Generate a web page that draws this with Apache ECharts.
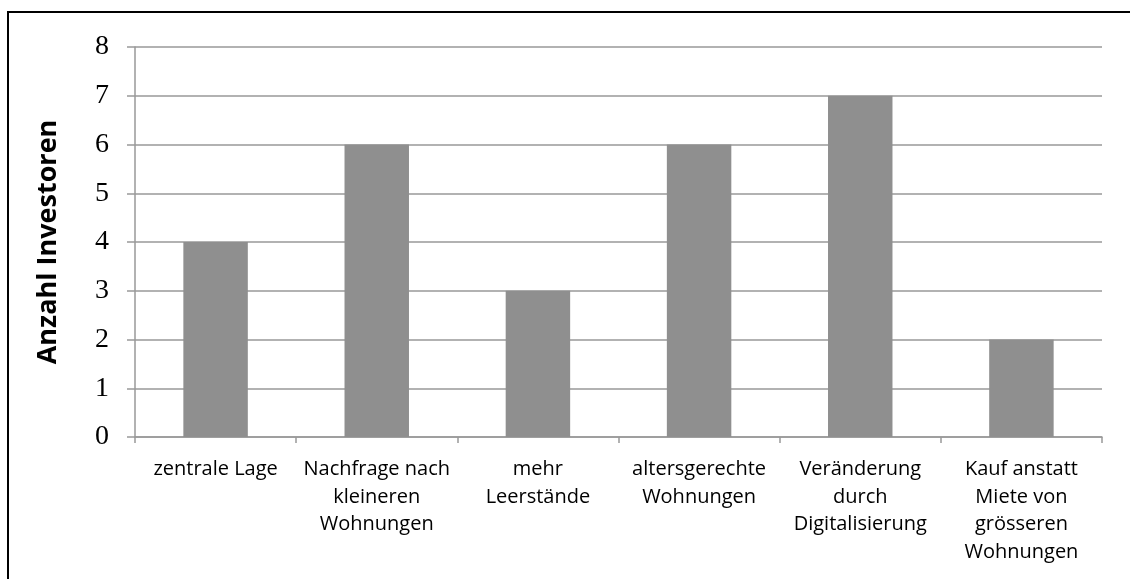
<!DOCTYPE html>
<html><head><meta charset="utf-8">
<script src="https://cdn.jsdelivr.net/npm/echarts@6/dist/echarts.min.js"></script>
<style>html,body{margin:0;padding:0;background:#fff}#c{width:1130px;height:579px}</style>
</head><body><div id="c"></div>
<script>
var categories = ['zentrale Lage', 'Nachfrage nach\nkleineren\nWohnungen', 'mehr\nLeerstände', 'altersgerechte\nWohnungen', 'Veränderung\ndurch\nDigitalisierung', 'Kauf anstatt\nMiete von\ngrösseren\nWohnungen'];
var values = [4, 6, 3, 6, 7, 2];
var yTitle = 'Anzahl Investoren';
var chart = echarts.init(document.getElementById('c'), null, {renderer: 'canvas'});
chart.setOption({
  animation: false,
  backgroundColor: '#fff',
  grid: {left: 135, right: 28, top: 47, bottom: 142, containLabel: false},
  graphic: [{type: 'rect', z: 100, shape: {x: 8, y: 12, width: 1300, height: 800}, style: {fill: 'none', stroke: '#000', lineWidth: 2}}],
  xAxis: {
    type: 'category', data: categories,
    axisLine: {lineStyle: {color: '#999', width: 1.5}},
    axisTick: {show: true, length: 6, lineStyle: {color: '#999', width: 1.5}},
    axisLabel: {interval: 0, color: '#000', fontFamily: 'Open Sans', fontSize: 20, lineHeight: 27.5, margin: 19}
  },
  yAxis: {
    type: 'value', min: 0, max: 8, interval: 1,
    name: yTitle, nameLocation: 'middle', nameGap: 73, nameRotate: 90,
    nameTextStyle: {fontFamily: 'Open Sans', fontWeight: 'bold', fontSize: 27, color: '#000'},
    axisLine: {show: true, lineStyle: {color: '#999', width: 1.5}},
    axisTick: {show: true, length: 8, lineStyle: {color: '#999', width: 1.5}},
    axisLabel: {color: '#000', fontFamily: 'Liberation Serif', fontSize: 28, margin: 26},
    splitLine: {lineStyle: {color: '#999', width: 1.5}}
  },
  series: [{type: 'bar', data: values, barWidth: '40%', itemStyle: {color: '#8f8f8f'}}]
});
</script></body></html>
